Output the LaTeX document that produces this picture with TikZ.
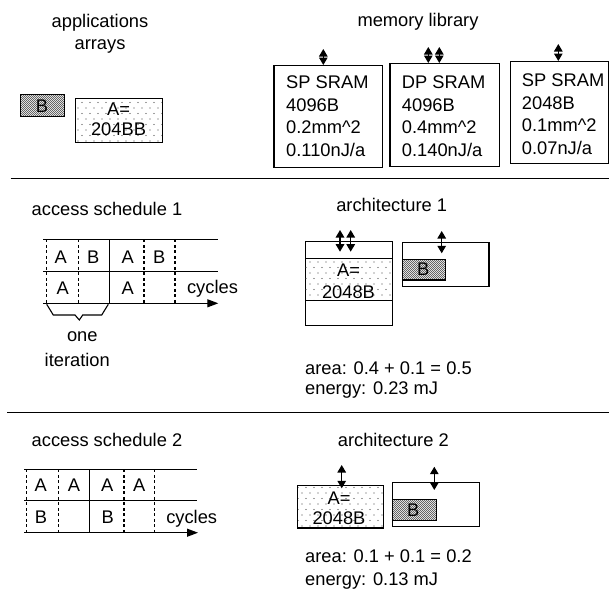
\documentclass[tikz,border=0pt]{standalone}
\usepackage{fontspec}
\setmainfont{Liberation Sans}
\usetikzlibrary{arrows.meta,patterns}

% sparse staggered dots for array A, dense dots for array B
\pgfdeclarepatternformonly{sparsedots}{\pgfpoint{-1pt}{-1pt}}{\pgfpoint{9pt}{12pt}}{\pgfpoint{8pt}{11pt}}{%
  \pgfpathcircle{\pgfpoint{2pt}{2.5pt}}{0.6pt}%
  \pgfpathcircle{\pgfpoint{6pt}{8pt}}{0.6pt}%
  \pgfusepath{fill}}
\pgfdeclarepatternformonly{densedots}{\pgfpoint{-1pt}{-1pt}}{\pgfpoint{3pt}{3pt}}{\pgfpoint{2pt}{2pt}}{%
  \pgfpathcircle{\pgfpoint{0.5pt}{0.5pt}}{0.6pt}%
  \pgfpathcircle{\pgfpoint{1.5pt}{1.5pt}}{0.6pt}%
  \pgfusepath{fill}}

\tikzset{
  lbl/.style={inner sep=0pt, anchor=base},
  lblw/.style={inner sep=0pt, anchor=base west},
  box/.style={draw, line width=1.2pt, inner sep=0pt, anchor=north west},
  arrA/.style={pattern=sparsedots, pattern color=black!75},
  arrB/.style={pattern=densedots, pattern color=black!60},
  sepline/.style={line width=1.3pt},
  gridline/.style={line width=1pt},
  dashv/.style={line width=1.1pt, dash pattern=on 3pt off 2.5pt},
  port/.style={line width=1.3pt, {Triangle[length=7.5pt,width=8.5pt]}-{Triangle[length=7.5pt,width=8.5pt]}},
  timeaxis/.style={line width=1.1pt, -{Triangle[length=11pt,width=8pt]}},
}

\begin{document}
\begin{tikzpicture}[x=1pt, y=-1pt, font=\fontsize{18.3}{22}\selectfont]
\useasboundingbox (0,0) rectangle (609,589);

% ---------------- applications and memory library ----------------
\node[lbl] (apptitle) at (100,27.7) {applications};
\node[lbl] (apptitle2) at (100,49.5) {arrays};

\node[box, arrB, minimum width=44pt, minimum height=22pt] (arrb) at (20,94) {};
\node[lbl] (arrbtxt) at (42,112) {B};
\node[box, arrA, minimum width=87pt, minimum height=44pt] (arra) at (75,98) {};
\node[lbl] (arratxt1) at (118.5,115) {A=};
\node[lbl] (arratxt2) at (118.5,135.5) {204BB};

\node[lbl] (memtitle) at (418,26.7) {memory library};

\node[box, minimum width=108.4pt, minimum height=102pt] (mem1) at (273.3,65) {};
\node[box, minimum width=109.7pt, minimum height=103pt] (mem2) at (389.3,63) {};
\node[box, minimum width=97.5pt, minimum height=102pt] (mem3) at (510,61) {};

\foreach \t [count=\i] in {SP SRAM, 4096B, 0.2mm\^{}2, 0.110nJ/a}
  \node[lblw] (mem1l\i) at (286,88.3+22.7*\i-22.7) {\t};
\foreach \t [count=\i] in {DP SRAM, 4096B, 0.4mm\^{}2, 0.140nJ/a}
  \node[lblw] (mem2l\i) at (401.7,88.3+22.7*\i-22.7) {\t};
\foreach \t [count=\i] in {SP SRAM, 2048B, 0.1mm\^{}2, 0.07nJ/a}
  \node[lblw] (mem3l\i) at (521.7,86.5+22.7*\i-22.7) {\t};

\coordinate (m1p) at (323.3,49);
\coordinate (m2p) at (428.3,47);
\coordinate (m2q) at (439.3,47);
\coordinate (m3p) at (558.3,44);
\draw[port] (m1p) -- (m1p |- mem1.north);
\draw[port] (m2p) -- (m2p |- mem2.north);
\draw[port] (m2q) -- (m2q |- mem2.north);
\draw[port] (m3p) -- (m3p |- mem3.north);

\draw[sepline] (10.7,178.3) -- (609,178.3);

% ---------------- access schedule 1 ----------------
\node[lbl] (sch1title) at (107,215) {access schedule 1};
\draw[gridline] (43.3,239.3) -- (218.3,239.3);
\draw[gridline] (43.3,271) -- (218.3,271);
\coordinate (ax1s) at (43.3,303.3);
\coordinate (ax1e) at (218.3,303.3);
\draw[timeaxis] (ax1s) -- (ax1e);
\foreach \x in {46.7,78.3,144,175}
  \draw[dashv] (\x,239.3) -- (\x,303.3);
\draw[gridline] (109,239.3) -- (109,303.3);
\node[lbl] (s1a1) at (60.7,263.2) {A};
\node[lbl] (s1b1) at (93.3,263.2) {B};
\node[lbl] (s1a2) at (127.7,263.2) {A};
\node[lbl] (s1b2) at (159.3,263.2) {B};
\node[lbl] (s1a3) at (62.7,294.8) {A};
\node[lbl] (s1a4) at (127.7,294.8) {A};
\node[lbl] (s1cyc) at (212.5,293.3) {cycles};
\draw[line width=1.1pt] (46.7,304.3) -- (53.3,315) -- (75,315) -- (79.3,320)
  -- (82.7,315) -- (101.7,315) -- (108.3,304.3);
\node[lbl] (iter1) at (82.3,341.7) {one};
\node[lbl] (iter2) at (77.3,366) {iteration};

% ---------------- architecture 1 ----------------
\node[lbl] (arch1title) at (391.7,211.7) {architecture 1};
\node[box, minimum width=86.7pt, minimum height=84.3pt] (a1dp) at (305,240.7) {};
\fill[arrA] (305,258.3) rectangle (391.7,300.7);
\draw[line width=1.2pt] (305,258.3) -- (391.7,258.3) (305,300.7) -- (391.7,300.7);
\node[lbl] (a1atxt1) at (348.5,276) {A=};
\node[lbl] (a1atxt2) at (348.5,298) {2048B};
\node[box, minimum width=86.6pt, minimum height=44.3pt] (a1sp) at (401.7,241.7) {};
\node[box, arrB, minimum width=43.3pt, minimum height=20.3pt] (a1b) at (401.7,259) {};
\node[lbl] (a1btxt) at (423.3,275.5) {B};
\coordinate (a1p) at (340,230);
\coordinate (a1q) at (350.7,230);
\coordinate (a1r) at (441.7,231);
\draw[port] (a1p) -- ++(0,21.7);
\draw[port] (a1q) -- ++(0,21.7);
\draw[port] (a1r) -- ++(0,22.3);
\node[lblw] (a1area) at (305,374.3) {area: 0.4 + 0.1 = 0.5};
\node[lblw] (a1energy) at (305,394.3) {energy: 0.23 mJ};

\draw[sepline] (7.3,412.3) -- (609,412.3);

% ---------------- access schedule 2 ----------------
\node[lbl] (sch2title) at (107,446) {access schedule 2};
\draw[gridline] (24,469.3) -- (197.3,469.3);
\draw[gridline] (24,500.7) -- (197.3,500.7);
\coordinate (ax2s) at (24,532.7);
\coordinate (ax2e) at (198,532.7);
\draw[timeaxis] (ax2s) -- (ax2e);
\foreach \x in {26.7,58.3,124,154.3}
  \draw[dashv] (\x,469.3) -- (\x,532.7);
\draw[gridline] (89,469.3) -- (89,532.7);
\node[lbl] (s2a1) at (40.7,491.5) {A};
\node[lbl] (s2a2) at (74,491.5) {A};
\node[lbl] (s2a3) at (107.3,491.5) {A};
\node[lbl] (s2a4) at (139.3,491.5) {A};
\node[lbl] (s2b1) at (41,523.8) {B};
\node[lbl] (s2b2) at (107.7,523.8) {B};
\node[lbl] (s2cyc) at (191.7,523.3) {cycles};

% ---------------- architecture 2 ----------------
\node[lbl] (arch2title) at (393.3,446.7) {architecture 2};
\node[box, arrA, minimum width=86pt, minimum height=42.3pt] (a2sp) at (296.7,485) {};
\node[lbl] (a2atxt1) at (339,504.5) {A=};
\node[lbl] (a2atxt2) at (339,524.8) {2048B};
\node[box, minimum width=87.3pt, minimum height=44.3pt] (a2sp2) at (391.7,481.7) {};
\node[box, arrB, minimum width=44pt, minimum height=21pt] (a2b) at (391.7,499) {};
\node[lbl] (a2btxt) at (413.3,516) {B};
\coordinate (a2p) at (341.7,465);
\coordinate (a2q) at (434.3,466.7);
\draw[port] (a2p) -- ++(0,23.3);
\draw[port] (a2q) -- ++(0,23.3);
\node[lblw] (a2area) at (305,562.7) {area: 0.1 + 0.1 = 0.2};
\node[lblw] (a2energy) at (305,585) {energy: 0.13 mJ};
\end{tikzpicture}
\end{document}
